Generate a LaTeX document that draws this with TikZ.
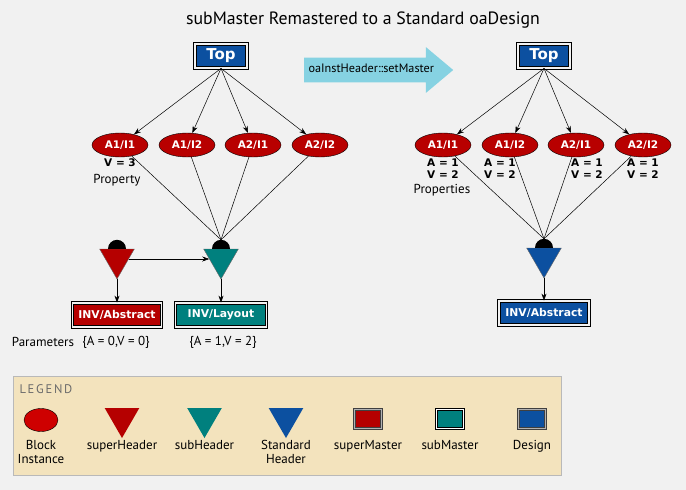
\documentclass[tikz,border=0pt]{standalone}
\usepackage{fontspec}
\setmainfont{PT Sans}
\newfontfamily\vfont{DejaVu Sans}
\newfontfamily\legfont{PT Sans}[LetterSpace=14]
\usetikzlibrary{arrows.meta,positioning,shapes.geometric,shapes.arrows,calc}
\definecolor{bgc}{RGB}{241,241,241}
\definecolor{instc}{RGB}{184,0,0}
\definecolor{instl}{RGB}{206,0,0}
\definecolor{superc}{RGB}{181,0,0}
\definecolor{subc}{RGB}{0,128,126}
\definecolor{stdc}{RGB}{12,80,160}
\definecolor{callc}{RGB}{134,210,226}
\definecolor{legc}{RGB}{243,227,189}

\begin{document}
\begin{tikzpicture}[x=1pt, y=1pt,
  >={Stealth[length=7pt, width=5pt]},
  every node/.style={font=\fontsize{13}{15}\selectfont},
  inst/.style={ellipse, draw=black, fill=instc, minimum width=56, minimum height=24,
               inner sep=0pt, text=white, font=\vfont\bfseries\fontsize{10.5}{12}\selectfont},
  hdr/.style={regular polygon, regular polygon sides=3, shape border rotate=180,
              minimum size=40, inner sep=0pt, draw=black!60, fill=#1},
  mstr/.style={draw=black, line width=0.8, double=gray!10, double distance=1.5,
               fill=#1, text=white, inner sep=0pt, minimum height=24,
               font=\vfont\bfseries\fontsize{10.8}{12}\selectfont},
  prop/.style={font=\vfont\bfseries\fontsize{10.5}{12}\selectfont, align=center, inner sep=0pt},
  edge/.style={->, line width=0.5},
  link/.style={line width=0.5},
]
\useasboundingbox (0,0) rectangle (686,-490);
\fill[bgc] (0,0) rectangle (686,-490);

\node[font=\fontsize{17.8}{20}\selectfont] (ttl) at (363,-20)
  {subMaster Remastered to a Standard oaDesign};

% left: before remastering
\node[mstr=stdc, minimum width=52, font=\vfont\bfseries\fontsize{15}{17}\selectfont]
  (topL) at (221,-56) {Top};
\node[inst] (eL1) at (120,-145) {A1/I1};
\node[inst] (eL2) at (187,-145) {A1/I2};
\node[inst] (eL3) at (253,-145) {A2/I1};
\node[inst] (eL4) at (320,-145) {A2/I2};
\draw[edge] (topL.south) -- (eL1);
\draw[edge] (topL.south) -- (eL2);
\draw[edge] (topL.south) -- (eL3);
\draw[edge] (topL.south) -- (eL4);
\node[prop] (vL) at (120,-163) {V = 3};
\node (propL) at (117,-180) {Property};

\node[hdr=superc] (hdP) at (117,-259) {};
\node[hdr=subc] (hdS) at (221,-259) {};
\coordinate (jL) at ($(hdS.north)+(0,9)$);
\draw[link] (eL1) -- (jL);
\draw[link] (eL2) -- (jL);
\draw[link] (eL3) -- (jL);
\draw[link] (eL4) -- (jL);
\fill (hdP.north) ++(-9,0) arc[start angle=180, end angle=0, radius=9] -- cycle;
\fill (hdS.north) ++(-9,0) arc[start angle=180, end angle=0, radius=9] -- cycle;

\node[mstr=superc, minimum width=89] (mP) at (117,-315) {INV/Abstract};
\node[mstr=subc, minimum width=91] (mS) at (221,-315) {INV/Layout};
\draw[edge] (hdP) -- (hdS);
\draw[edge] (hdP) -- (mP);
\draw[edge] (hdS) -- (mS);
\node (parm) at (43,-342) {Parameters};
\node (parP) at (116,-342) {\{A = 0,V = 0\}};
\node (parS) at (223,-342) {\{A = 1,V = 2\}};

\node[single arrow, fill=callc, single arrow head extend=10.5, single arrow tip angle=80,
      minimum height=149, inner ysep=7, text height=8, text depth=2.5,
      anchor=tail, font=\fontsize{12.2}{14}\selectfont] (call) at (304,-70)
  {oaInstHeader::setMaster};

% right: after remastering
\node[mstr=stdc, minimum width=52, font=\vfont\bfseries\fontsize{15}{17}\selectfont]
  (topR) at (544,-56) {Top};
\node[inst] (eR1) at (443,-145) {A1/I1};
\node[inst] (eR2) at (510,-145) {A1/I2};
\node[inst] (eR3) at (576,-145) {A2/I1};
\node[inst] (eR4) at (643,-145) {A2/I2};
\draw[edge] (topR.south) -- (eR1);
\draw[edge] (topR.south) -- (eR2);
\draw[edge] (topR.south) -- (eR3);
\draw[edge] (topR.south) -- (eR4);
\node[prop] (vR1) at (443,-169) {A = 1\\V = 2};
\node[prop] (vR2) at (500,-169) {A = 1\\V = 2};
\node[prop] (vR3) at (587,-169) {A = 1\\V = 2};
\node[prop] (vR4) at (643,-169) {A = 1\\V = 2};
\node (propR) at (442,-190) {Properties};

\node[hdr=stdc] (hdR) at (544,-258) {};
\coordinate (jR) at ($(hdR.north)+(0,9)$);
\draw[link] (eR1) -- (jR);
\draw[link] (eR2) -- (jR);
\draw[link] (eR3) -- (jR);
\draw[link] (eR4) -- (jR);
\fill (hdR.north) ++(-9,0) arc[start angle=180, end angle=0, radius=9] -- cycle;
\node[mstr=stdc, minimum width=90] (mR) at (544,-313) {INV/Abstract};
\draw[edge] (hdR) -- (mR);

% legend
\node[draw=gray!55, fill=legc, minimum width=548, minimum height=99, inner sep=0pt]
  (leg) at (287,-425.5) {};
\node[anchor=west, text=black!58, font=\legfont\fontsize{12.5}{14}\selectfont]
  (legT) at (16,-389) {LEGEND};
\coordinate (ly) at (0,-437);
\node[inst, fill=instl, minimum width=34, minimum height=23] (kI) at (41,-420) {};
\node[hdr=superc, draw=none] (kP) at (122,-418) {};
\node[hdr=subc, draw=none] (kS) at (204.5,-418) {};
\node[hdr=stdc, draw=none] (kD) at (286,-418) {};
\node[mstr=superc, draw=black!75, double=gray!60, minimum width=27, minimum height=19] (kM) at (368,-419) {};
\node[mstr=subc, double=white, minimum width=27, minimum height=19] (kU) at (450,-419) {};
\node[mstr=stdc, draw=black!75, double=gray!60, minimum width=27, minimum height=19] (kG) at (532,-419) {};
\node[anchor=north, align=center] at (kI |- ly) {Block\\[-1pt]Instance};
\node[anchor=north] at (kP |- ly) {superHeader};
\node[anchor=north] at (kS |- ly) {subHeader};
\node[anchor=north, align=center] at (kD |- ly) {Standard\\[-1pt]Header};
\node[anchor=north] at (kM |- ly) {superMaster};
\node[anchor=north] at (kU |- ly) {subMaster};
\node[anchor=north] at (kG |- ly) {Design};
\end{tikzpicture}
\end{document}
